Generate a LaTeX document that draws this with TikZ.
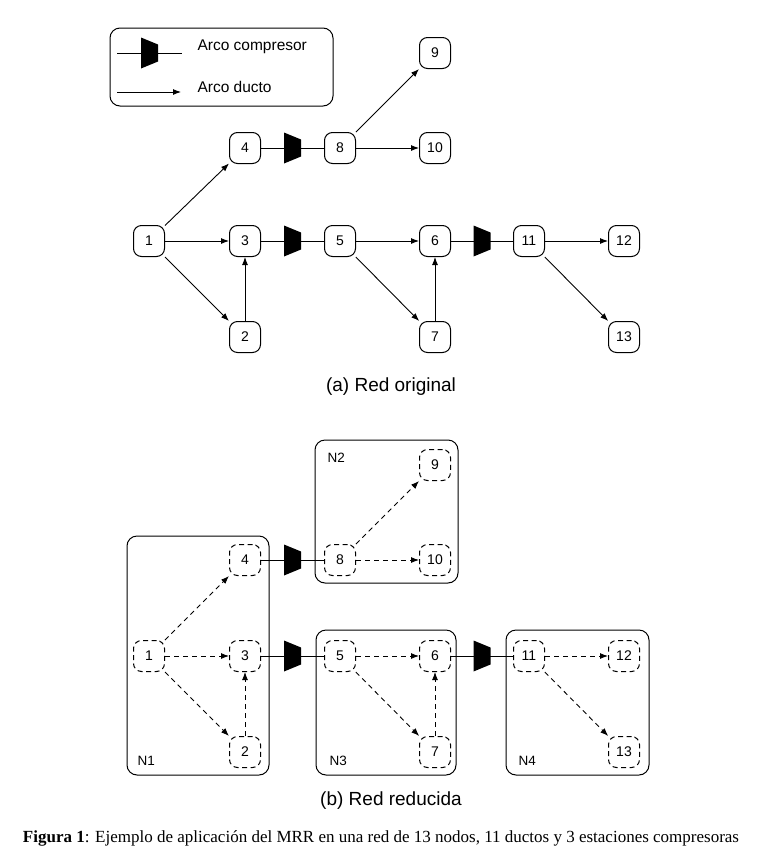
\documentclass[tikz,border=0pt]{standalone}
\usepackage{fontspec}
\setmainfont{Liberation Sans}
\newfontfamily\capfont{Liberation Serif}
\usetikzlibrary{arrows.meta,calc}

\tikzset{
  compressor/.pic={\fill (-8.5,-15.5) -- (8.5,-8.5) -- (8.5,8.5) -- (-8.5,15.5) -- cycle;}
}

\begin{document}
\begin{tikzpicture}[x=1pt,y=-1pt,
  every node/.style={font=\fontsize{14}{14}\selectfont},
  nd/.style={draw,rounded corners=8pt,minimum size=31pt,inner sep=0pt,line width=1pt},
  rd/.style={nd,dash pattern=on 5pt off 3.5pt},
  duct/.style={-{Latex[length=8pt,width=6pt]},line width=0.9pt},
  rduct/.style={duct,dash pattern=on 5pt off 4pt},
  comp/.style={line width=0.9pt},
  grp/.style={draw,rounded corners=10pt,line width=1pt}]
\useasboundingbox (0,0) rectangle (758,860);

% legend
\draw[grp] (110,28) rectangle (333,106);
\coordinate (lc1) at (117,53);
\coordinate (lc2) at (182,53);
\coordinate (ld1) at (117,92);
\coordinate (ld2) at (181,92);
\draw[comp] (lc1) -- (lc2);
\pic at ($(lc1)!.5!(lc2)$) {compressor};
\draw[duct] (ld1) -- (ld2);
\node[anchor=west,font=\fontsize{15.5}{15.5}\selectfont] (lct) at (194,47) {Arco compresor};
\node[anchor=west,font=\fontsize{15.5}{15.5}\selectfont] (ldt) at (194,87) {Arco ducto};

% (a) original network
\node[nd] (a1)  at (149,241) {1};
\node[nd] (a2)  at (245,337) {2};
\node[nd] (a3)  at (245,241) {3};
\node[nd] (a4)  at (245,148) {4};
\node[nd] (a5)  at (340,241) {5};
\node[nd] (a6)  at (435,241) {6};
\node[nd] (a7)  at (435,337) {7};
\node[nd] (a8)  at (340,148) {8};
\node[nd] (a9)  at (435,53)  {9};
\node[nd] (a10) at (435,148) {10};
\node[nd] (a11) at (529,241) {11};
\node[nd] (a12) at (624,241) {12};
\node[nd] (a13) at (624,337) {13};

\draw[duct] (a1) -- (a4);
\draw[duct] (a1) -- (a3);
\draw[duct] (a1) -- (a2);
\draw[duct] (a2) -- (a3);
\draw[duct] (a8) -- (a9);
\draw[duct] (a8) -- (a10);
\draw[duct] (a5) -- (a6);
\draw[duct] (a5) -- (a7);
\draw[duct] (a7) -- (a6);
\draw[duct] (a11) -- (a12);
\draw[duct] (a11) -- (a13);

\node[font=\fontsize{19}{19}\selectfont] (capa) at (391,387) {(a) Red original};

% (b) reduced network: the groups first
\draw[grp] (127,536) rectangle (269,775);
\draw[grp] (315,440) rectangle (458,583);
\draw[grp] (316,630) rectangle (456,775);
\draw[grp] (506,630) rectangle (649,775);
\node[anchor=west,font=\fontsize{13.5}{13.5}\selectfont] (gn1) at (134,761) {N1};
\node[anchor=west,font=\fontsize{13.5}{13.5}\selectfont] (gn2) at (324,458) {N2};
\node[anchor=west,font=\fontsize{13.5}{13.5}\selectfont] (gn3) at (326,761) {N3};
\node[anchor=west,font=\fontsize{13.5}{13.5}\selectfont] (gn4) at (515,761) {N4};

\node[rd] (b1)  at (149,656) {1};
\node[rd] (b2)  at (245,752) {2};
\node[rd] (b3)  at (245,656) {3};
\node[rd] (b4)  at (245,560) {4};
\node[rd] (b5)  at (340,656) {5};
\node[rd] (b6)  at (435,656) {6};
\node[rd] (b7)  at (435,752) {7};
\node[rd] (b8)  at (340,560) {8};
\node[rd] (b9)  at (435,465) {9};
\node[rd] (b10) at (435,560) {10};
\node[rd] (b11) at (529,656) {11};
\node[rd] (b12) at (624,656) {12};
\node[rd] (b13) at (624,752) {13};

\draw[rduct] (b1) -- (b4);
\draw[rduct] (b1) -- (b3);
\draw[rduct] (b1) -- (b2);
\draw[rduct] (b2) -- (b3);
\draw[rduct] (b8) -- (b9);
\draw[rduct] (b8) -- (b10);
\draw[rduct] (b5) -- (b6);
\draw[rduct] (b5) -- (b7);
\draw[rduct] (b7) -- (b6);
\draw[rduct] (b11) -- (b12);
\draw[rduct] (b11) -- (b13);

% compressor arcs
\foreach \s/\t in {a4/a8,a3/a5,a6/a11,b4/b8,b3/b5,b6/b11} {
  \draw[comp] (\s) -- (\t);
  \pic at ($(\s)!.5!(\t)$) {compressor};
}

\node[font=\fontsize{19}{19}\selectfont] (capb) at (391,801) {(b) Red reducida};

\node[font=\capfont\fontsize{17}{17}\selectfont] (fig) at (381,838)
  {\textbf{Figura 1}: Ejemplo de aplicación del MRR en una red de 13 nodos, 11 ductos y 3 estaciones compresoras};
\end{tikzpicture}
\end{document}
